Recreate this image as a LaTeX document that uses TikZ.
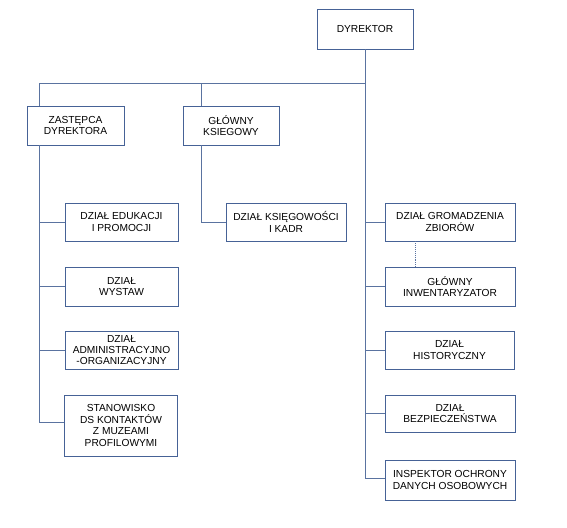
\documentclass[tikz,border=0pt]{standalone}
\usepackage{fontspec}
\setmainfont{Liberation Sans}
\definecolor{boxc}{RGB}{70,98,150}
\definecolor{linec}{RGB}{90,115,160}
\begin{document}
\begin{tikzpicture}[x=1pt,y=-1pt,
  box/.style={draw=boxc,line width=0.9pt,rectangle,align=center,inner sep=1pt,
    font=\fontsize{10.2}{11.6}\selectfont,text=black},
  conn/.style={draw=linec,line width=0.9pt}]
\useasboundingbox (0,0) rectangle (567,527);
% nodes
\node[box,minimum width=96,minimum height=40] (dyr) at (365,29) {DYREKTOR};
\node[box,minimum width=97,minimum height=39] (zas) at (75.5,125.5) {ZASTĘPCA\\DYREKTORA};
\node[box,minimum width=96,minimum height=39] (ksg) at (231,125.5) {GŁÓWNY\\KSIEGOWY};
\node[box,minimum width=113,minimum height=38] (edu) at (121.5,222) {DZIAŁ EDUKACJI\\I PROMOCJI};
\node[box,minimum width=113,minimum height=39] (wys) at (121.5,286.5) {DZIAŁ\\WYSTAW};
\node[box,minimum width=113,minimum height=38,font=\fontsize{10.2}{10.8}\selectfont] (adm) at (121.5,350) {DZIAŁ\\ADMINISTRACYJNO\\-ORGANIZACYJNY};
\node[box,minimum width=113,minimum height=61] (sta) at (121,425.5) {STANOWISKO\\DS KONTAKTÓW\\Z MUZEAMI\\PROFILOWYMI};
\node[box,minimum width=120,minimum height=38] (kad) at (286,222) {DZIAŁ KSIĘGOWOŚCI\\I KADR};
\node[box,minimum width=130,minimum height=38] (gro) at (450,222) {DZIAŁ GROMADZENIA\\ZBIORÓW};
\node[box,minimum width=130,minimum height=39] (inw) at (450,286.5) {GŁÓWNY\\INWENTARYZATOR};
\node[box,minimum width=129,minimum height=38] (his) at (449.5,350) {DZIAŁ\\HISTORYCZNY};
\node[box,minimum width=130,minimum height=37] (bez) at (450,413.5) {DZIAŁ\\BEZPIECZEŃSTWA};
\node[box,minimum width=130,minimum height=40] (ins) at (450,480) {INSPEKTOR OCHRONY\\DANYCH OSOBOWYCH};
% coordinates
\coordinate (top) at (365,83);
\coordinate (tl) at (39,83);
\coordinate (tk) at (201,83);
\coordinate (zb) at (39,145);
\coordinate (kb) at (201,145);
\coordinate (sl) at (39,422);
\coordinate (rl) at (365,478);
% trunk
\draw[conn] (dyr.south) -- (rl);
\draw[conn] (tl) -- (top);
\draw[conn] (tl) -- (zas.north -| tl);
\draw[conn] (tk) -- (ksg.north -| tk);
% left branch
\draw[conn] (zb) -- (sl) -- (sta.west |- sl);
\draw[conn] (edu.west) -- (edu.west -| zb);
\draw[conn] (wys.west) -- (wys.west -| zb);
\draw[conn] (adm.west) -- (adm.west -| zb);
% ksiegowy branch
\draw[conn] (kb) |- (kad.west);
% right branch
\draw[conn] (gro.west) -- (gro.west -| top);
\draw[conn] (inw.west) -- (inw.west -| top);
\draw[conn] (his.west) -- (his.west -| top);
\draw[conn] (bez.west) -- (bez.west -| top);
\draw[conn] (ins.west |- rl) -- (rl);
% dotted
\draw[conn,densely dotted,line width=0.6pt] (gro.south -| 415,0) -- (inw.north -| 415,0);
\end{tikzpicture}
\end{document}
